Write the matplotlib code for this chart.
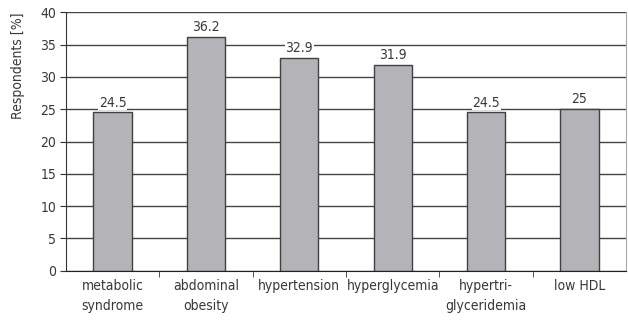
import matplotlib
matplotlib.use("Agg")
import matplotlib.pyplot as plt
import numpy as np

# data
categories = ["metabolic\nsyndrome", "abdominal\nobesity", "hypertension",
              "hyperglycemia", "hypertri-\nglyceridemia", "low HDL"]
values = [24.5, 36.2, 32.9, 31.9, 24.5, 25]
value_labels = ["24.5", "36.2", "32.9", "31.9", "24.5", "25"]
y_ticks = [0, 5, 10, 15, 20, 25, 30, 35, 40]

plt.rcParams["font.family"] = ["DejaVu Sans"]
plt.rcParams["font.stretch"] = "condensed"
text_col = "#383838"

fig = plt.figure(figsize=(6.28, 3.22), dpi=100)
ax = fig.add_axes([0.105, 0.159, 0.892, 0.803])

x = np.arange(len(categories))
ax.bar(x, values, width=0.41, color="#b4b4b8", edgecolor="#404040",
       linewidth=1.0, zorder=3)

# value labels sit on a white patch so the grid breaks around them
for xi, v, lab in zip(x, values, value_labels):
    ax.text(xi, v + 0.45, lab, ha="center", va="bottom", fontsize=10,
            color=text_col, zorder=4,
            bbox=dict(facecolor="white", edgecolor="none", pad=0.5))

ax.set_xlim(-0.5, len(categories) - 0.5)
ax.set_ylim(0, 40)
ax.set_yticks(y_ticks)
ax.tick_params(axis="y", labelsize=10, labelcolor=text_col, length=4,
               color="#333333", pad=3)
ax.set_ylabel("Respondents [%]", fontsize=10, color=text_col, labelpad=11,
              loc="top")

ax.set_xticks(x)
ax.set_xticklabels(categories, fontsize=10, color=text_col, linespacing=1.5)
ax.tick_params(axis="x", which="major", length=0, pad=6)
ax.set_xticks(np.arange(0.5, len(categories) - 0.5, 1.0), minor=True)
ax.tick_params(axis="x", which="minor", length=4, color="#333333")

ax.grid(axis="y", color="#444444", linewidth=1.0, zorder=0)
ax.set_axisbelow(True)

ax.spines["top"].set_visible(False)
ax.spines["right"].set_color("#aaaaaa")
ax.spines["left"].set_color("#333333")
ax.spines["bottom"].set_color("#222222")
ax.spines["bottom"].set_zorder(5)

fig.savefig("out.png", dpi=100, facecolor="white")
